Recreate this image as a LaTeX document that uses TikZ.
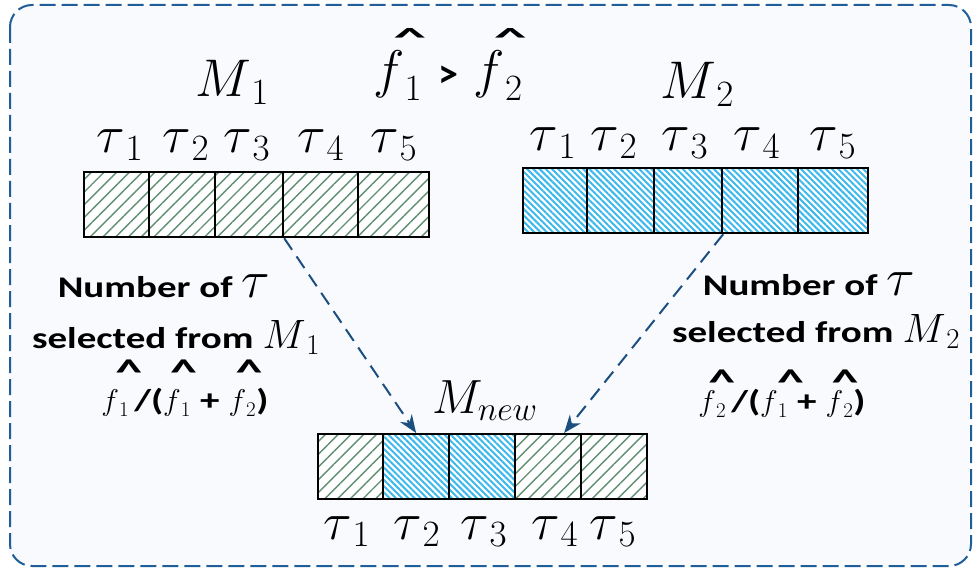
\RequirePackage{fix-cm}
\documentclass[tikz,border=0pt]{standalone}
\usepackage{amsmath}
\usepackage{fontspec}
\setsansfont{Carlito}
\usepackage{graphicx}
\usetikzlibrary{arrows.meta, patterns.meta}
\definecolor{framebg}{RGB}{248, 250, 253}
\definecolor{frameblue}{RGB}{31, 94, 153}
\definecolor{arrowblue}{RGB}{28, 78, 128}
\definecolor{hatchgreen}{RGB}{96, 142, 114}
\definecolor{hatchblue}{RGB}{60, 184, 236}
\newcommand{\hatmark}[4]{\rlap{\hspace*{#3}\raisebox{#2}{\scalebox{1.5}[#4]{\fontsize{#1}{#1}\selectfont\sffamily\bfseries\textasciicircum}}}}
\newcommand{\fh}[5]{{\hatmark{#2}{#3}{#4}{#5}f}_{#1}}
\newcommand{\wideword}[1]{\scalebox{1.3}[1]{\sffamily\bfseries #1}}
\tikzset{
    cell/.style={draw, line width=2.2pt, inner sep=0pt, minimum height=65pt, anchor=north west, preaction={fill=white}},
    greencell/.style={cell, pattern={Lines[angle=45, distance=9pt, line width=1.4pt]}, pattern color=hatchgreen},
    bluecell/.style={cell, pattern={Lines[angle=-45, distance=4.4pt, line width=2pt]}, pattern color=hatchblue},
    big/.style={anchor=base, inner sep=0pt, font=\fontsize{53}{60}\selectfont},
    side/.style={anchor=base, inner sep=0pt, font=\fontsize{30}{36}\selectfont},
    flow/.style={->, arrowblue, line width=2pt, dash pattern=on 14pt off 8pt}
}

\begin{document}
\begin{tikzpicture}[x=1pt, y=-1pt, >={Stealth[length=18pt, width=14pt]}]
    \useasboundingbox (0,0) rectangle (973,569);
    \draw[draw=frameblue, fill=framebg, line width=2pt, dash pattern=on 16pt off 6pt, rounded corners=22pt] (10,5) rectangle (971,566);

    \foreach \x/\w [count=\i] in {83/65, 148/66, 214/68, 282/75, 357/71}
        \node[greencell, minimum width=\w pt] (mA\i) at (\x,171) {};
    \foreach \x/\w [count=\i] in {522/64, 586/67, 653/68, 721/76, 797/70}
        \node[bluecell, minimum width=\w pt] (mB\i) at (\x,167) {};
    \foreach \x/\s [count=\i] in {317/greencell, 382/bluecell, 448/bluecell, 514/greencell, 580/greencell}
        \node[\s, minimum width=66pt] (mN\i) at (\x,433) {};

    \foreach \x [count=\i] in {120, 186, 247, 321, 394}
        \node[big] (tA\i) at (\x,153) {$\tau_{\,\i}$};
    \foreach \x [count=\i] in {553, 614, 685, 757, 833}
        \node[big] (tB\i) at (\x,151) {$\tau_{\,\i}$};
    \foreach \x [count=\i] in {347, 417, 484, 555, 613}
        \node[big] (tN\i) at (\x,539) {$\tau_{\,\i}$};

    \node[big] (lblA) at (232,97) {$M_{\,1}$};
    \node[big] (lblB) at (697,99) {$M_{\,2}$};
    \node[big] (cmp) at (448,88) {$\fh{1}{44}{41pt}{20pt}{0.6}$ {\fontsize{40}{40}\selectfont\sffamily\bfseries >} $\fh{2}{44}{41pt}{20pt}{0.6}$};
    \node[big, font=\fontsize{48}{56}\selectfont] (lblN) at (485,413) {$M_{new}$};

    \node[side] (numA) at (164,297) {\wideword{Number of}\ {\fontsize{53}{60}\selectfont$\tau$}};
    \node[side] (selA) at (176,348) {\wideword{selected from} {\fontsize{41}{48}\selectfont$M_{\,1}$}};
    \node[side] (fracA) at (185,410) {$\fh{1}{36}{26pt}{14pt}{1}$\,\wideword{/(}$\fh{1}{36}{26pt}{7pt}{1}$ \wideword{+} $\fh{2}{36}{26pt}{7pt}{1}$\wideword{)}};
    \node[side] (numB) at (809,295) {\wideword{Number of}\ {\fontsize{53}{60}\selectfont$\tau$}};
    \node[side] (selB) at (816,342) {\wideword{selected from} {\fontsize{41}{48}\selectfont$M_{\,2}$}};
    \node[side] (fracB) at (782,411) {$\fh{2}{36}{17pt}{10pt}{1}$\,\wideword{/(}$\fh{1}{36}{17pt}{17pt}{1}$ \wideword{+} $\fh{2}{36}{17pt}{6pt}{1}$\wideword{)}};

    \draw[flow] (mA3.south east) -- (mN2.north);
    \draw[flow] (mB3.south east) -- ([xshift=16pt]mN4.north);
\end{tikzpicture}
\end{document}
